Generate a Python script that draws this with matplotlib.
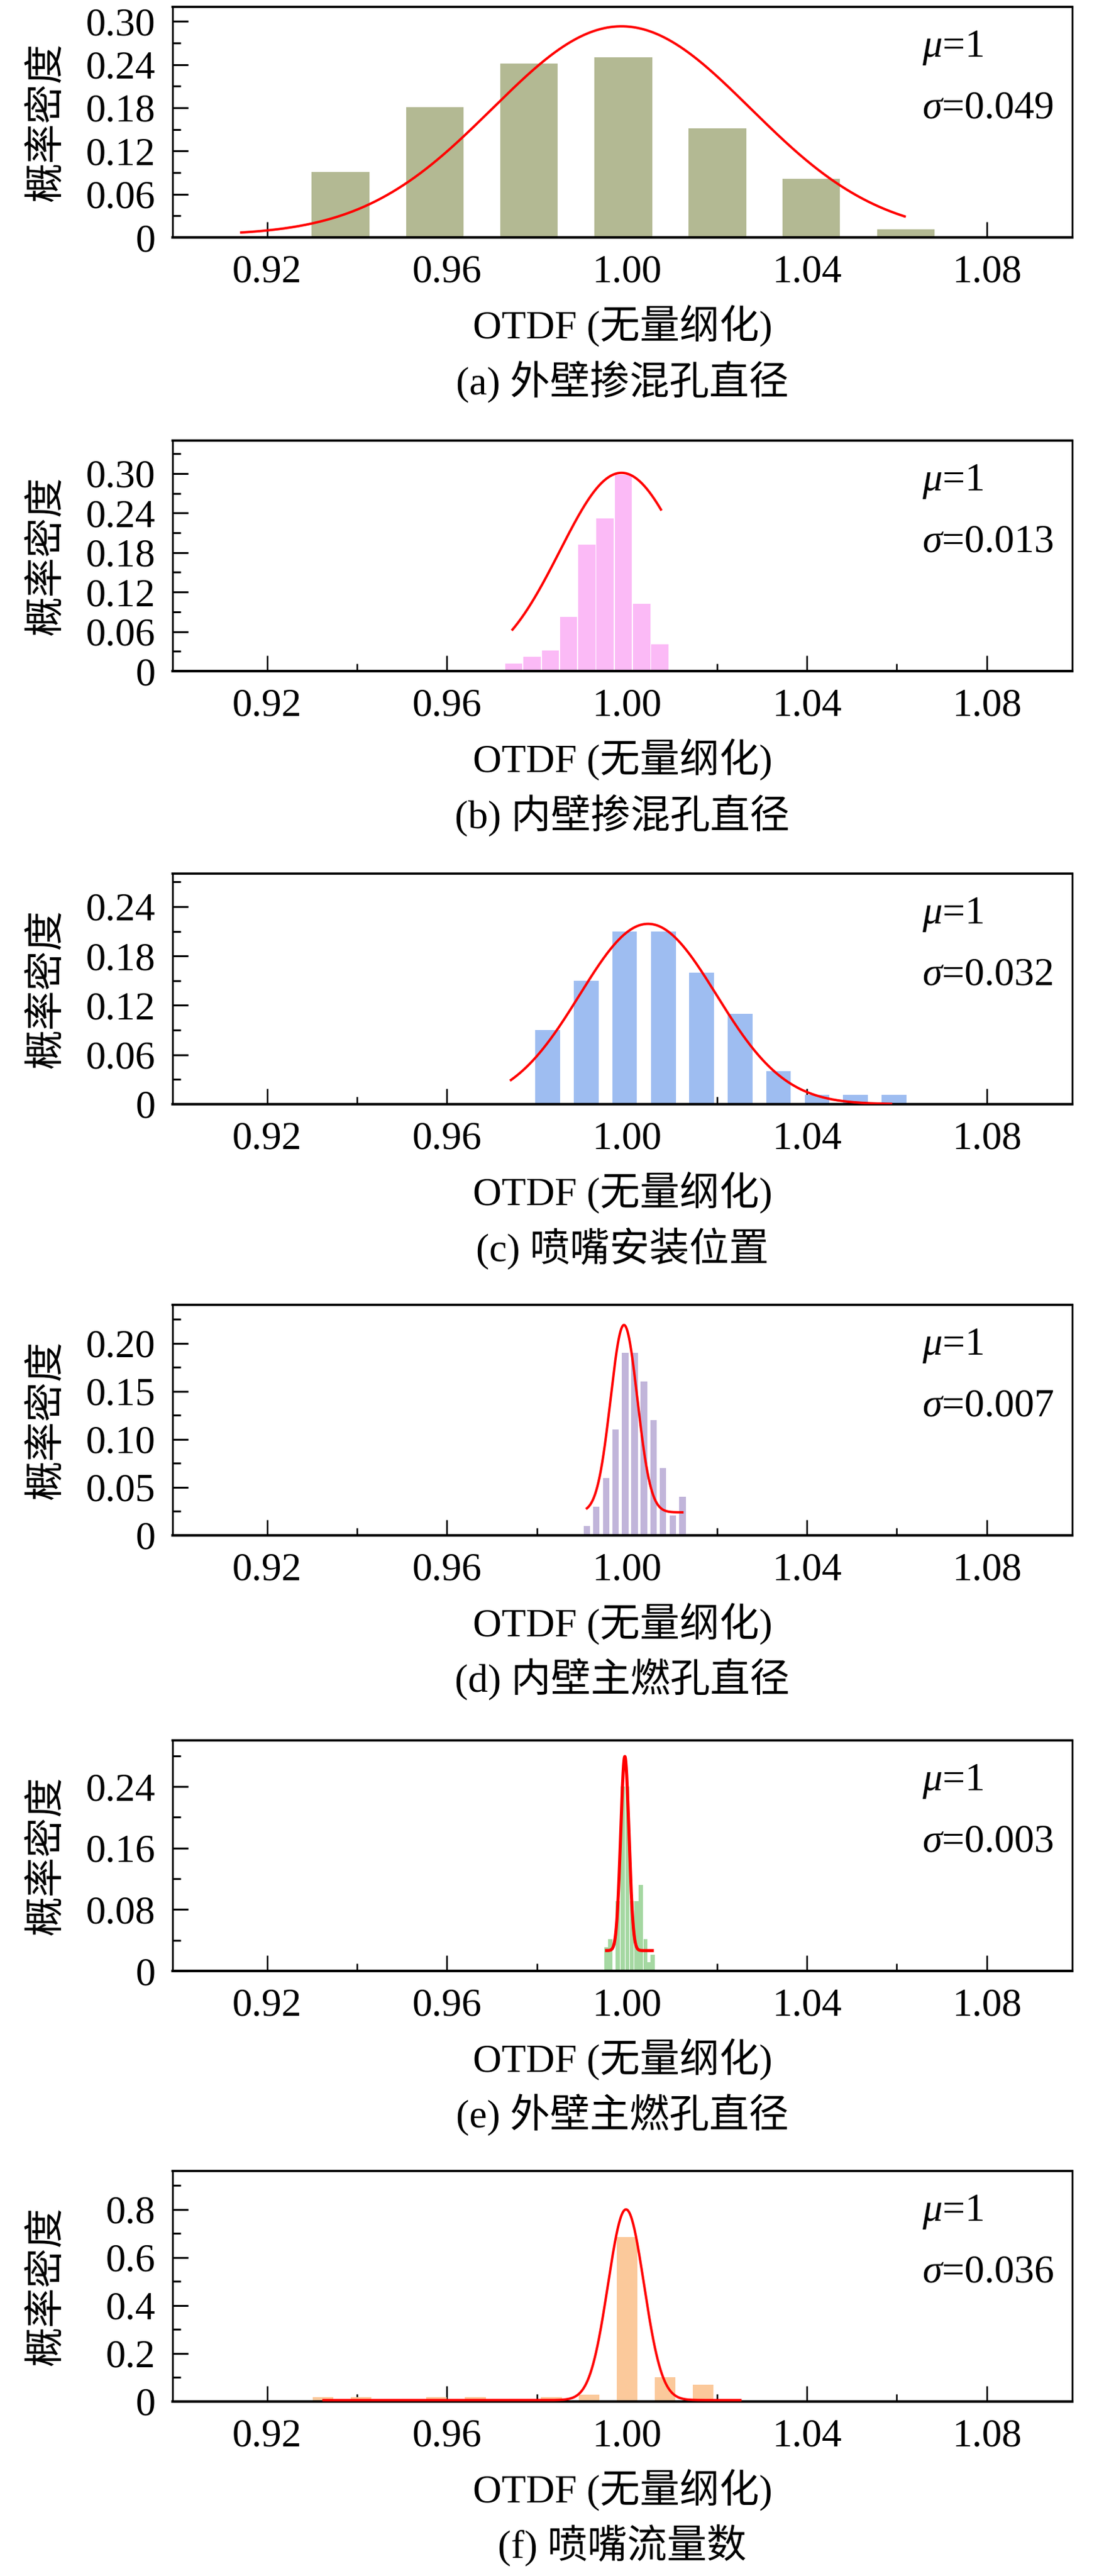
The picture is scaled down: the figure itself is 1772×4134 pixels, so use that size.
import numpy as np
import matplotlib
matplotlib.use("Agg")
import matplotlib.pyplot as plt
from matplotlib.ticker import FixedLocator, MultipleLocator

plt.rcParams['font.family'] = ['Liberation Serif', 'Noto Sans CJK SC', 'DejaVu Sans']
plt.rcParams['mathtext.fontset'] = 'custom'
plt.rcParams['mathtext.it'] = 'Liberation Serif:italic'
plt.rcParams['mathtext.rm'] = 'Liberation Serif'

# ---------------- data ----------------
captions = ["(a) 外壁掺混孔直径", "(b) 内壁掺混孔直径", "(c) 喷嘴安装位置",
            "(d) 内壁主燃孔直径", "(e) 外壁主燃孔直径", "(f) 喷嘴流量数"]
sigma_labels = ["0.049", "0.013", "0.032", "0.007", "0.003", "0.036"]
mu_label = "1"

bar_x_a = [0.9363, 0.9573, 0.9782, 0.9992, 1.0201, 1.0410, 1.0620]
bar_h_a = [0.091, 0.181, 0.241, 0.250, 0.151, 0.081, 0.011]

bar_x_b = [0.9748, 0.9789, 0.9830, 0.9870, 0.9911, 0.9951, 0.9992, 1.0033, 1.0073]
bar_h_b = [0.011, 0.022, 0.031, 0.082, 0.192, 0.232, 0.298, 0.102, 0.041]

bar_x_c = [0.9824, 0.9910, 0.9995, 1.0081, 1.0166, 1.0252, 1.0337, 1.0423, 1.0508, 1.0594]
bar_h_c = [0.090, 0.150, 0.210, 0.210, 0.160, 0.110, 0.040, 0.011, 0.011, 0.011]

bar_x_d = [0.9911, 0.9932, 0.9954, 0.9975, 0.9996, 1.0017, 1.0038, 1.0059, 1.0080, 1.0102, 1.0124]
bar_h_d = [0.010, 0.030, 0.060, 0.110, 0.190, 0.190, 0.160, 0.120, 0.070, 0.021, 0.040]

bar_x_e = [0.9954, 0.9963, 0.9980, 0.9991, 1.0001, 1.0011, 1.0021, 1.0031, 1.0041, 1.0049, 1.0057]
bar_h_e = [0.031, 0.041, 0.091, 0.240, 0.240, 0.091, 0.091, 0.112, 0.041, 0.011, 0.021]

bar_x_f = [0.9325, 0.9409, 0.9494, 0.9577, 0.9663, 0.9747, 0.9832, 0.9916, 1.0000, 1.0085, 1.0169]
bar_h_f = [0.018, 0.018, 0.0, 0.019, 0.018, 0.0, 0.019, 0.028, 0.685, 0.100, 0.070]

# fitted normal curves: centre, width, peak, base level, x range
curve_center = [0.9988, 0.9988, 1.0047, 0.99935, 0.99954, 0.9998]
curve_sigma = [0.0287, 0.0137, 0.0152, 0.00297, 0.00092, 0.0040]
curve_peak = [0.293, 0.301, 0.219, 0.219, 0.279, 0.800]
curve_base = [0.003, 0.0, 0.0, 0.024, 0.0265, 0.006]
curve_xmin = [0.914, 0.9744, 0.974, 0.9909, 0.99516, 0.9323]
curve_xmax = [1.062, 1.0077, 1.059, 1.0126, 1.00599, 1.0255]

ylims = [0.32, 0.35, 0.28, 0.24, 0.30, 0.96]
yticks = [[0, 0.06, 0.12, 0.18, 0.24, 0.30],
          [0, 0.06, 0.12, 0.18, 0.24, 0.30],
          [0, 0.06, 0.12, 0.18, 0.24],
          [0, 0.05, 0.10, 0.15, 0.20],
          [0, 0.08, 0.16, 0.24],
          [0, 0.2, 0.4, 0.6, 0.8]]
ytick_labels = [["0", "0.06", "0.12", "0.18", "0.24", "0.30"],
                ["0", "0.06", "0.12", "0.18", "0.24", "0.30"],
                ["0", "0.06", "0.12", "0.18", "0.24"],
                ["0", "0.05", "0.10", "0.15", "0.20"],
                ["0", "0.08", "0.16", "0.24"],
                ["0", "0.2", "0.4", "0.6", "0.8"]]
yminor = [0.03, 0.03, 0.03, 0.025, 0.04, 0.1]
xticks = [0.92, 0.96, 1.00, 1.04, 1.08]
xtick_labels = ["0.92", "0.96", "1.00", "1.04", "1.08"]
xminor = [0.94, 0.98, 1.02, 1.06]
xlabel = "OTDF (无量纲化)"
ylabel = "概率密度"

bars_x = [bar_x_a, bar_x_b, bar_x_c, bar_x_d, bar_x_e, bar_x_f]
bars_h = [bar_h_a, bar_h_b, bar_h_c, bar_h_d, bar_h_e, bar_h_f]

# ---------------- style ----------------
colors = ['#b3b993', '#fbbaf6', '#9ebdf1', '#c1b5da', '#a5d8a2', '#fbc99b']
bar_widths = [0.0128, 0.0038, 0.0055, 0.00147, 0.00092, 0.0046]
curve_lw = [2.8, 2.8, 2.8, 2.8, 3.6, 2.8]

W, H = 1772, 4134
DPI = 100
fig = plt.figure(figsize=(W / DPI, H / DPI), dpi=DPI)
FS = 46

tops = [11, 707, 1402, 2094, 2793, 3484]
ax_h = 370
left, right = 277, 1721
px2pt = 72.0 / DPI

for i in range(6):
    top = tops[i]
    ax = fig.add_axes([left / W, 1 - (top + ax_h) / H, (right - left) / W, ax_h / H])
    ax.bar(bars_x[i], bars_h[i], width=bar_widths[i], color=colors[i], linewidth=0, zorder=2)
    xs = np.linspace(curve_xmin[i], curve_xmax[i], 600)
    ys = curve_base[i] + (curve_peak[i] - curve_base[i]) * np.exp(-(xs - curve_center[i]) ** 2 / (2 * curve_sigma[i] ** 2))
    ax.plot(xs, ys, color='#ff0000', lw=curve_lw[i], zorder=3, solid_capstyle='butt')

    ax.set_xlim(0.899, 1.099)
    ax.set_ylim(0, ylims[i])
    ax.xaxis.set_major_locator(FixedLocator(xticks))
    ax.set_xticklabels(xtick_labels)
    ax.xaxis.set_minor_locator(FixedLocator(xminor))
    ax.yaxis.set_major_locator(FixedLocator(yticks[i]))
    ax.set_yticklabels(ytick_labels[i])
    ax.yaxis.set_minor_locator(MultipleLocator(yminor[i]))

    ax.tick_params(axis='both', which='major', direction='in', length=18, width=2.2,
                   labelsize=FS, top=False, right=False)
    ax.tick_params(axis='both', which='minor', direction='in', length=9, width=2.2,
                   top=False, right=False)
    ax.tick_params(axis='x', which='major', pad=20, width=1.8)
    ax.tick_params(axis='x', which='minor', width=1.8)
    ax.tick_params(axis='y', which='major', pad=20)
    for s in ['left', 'right']:
        ax.spines[s].set_linewidth(2.0)
    ax.spines['top'].set_linewidth(2.6)
    ax.spines['bottom'].set_linewidth(3.0)

    ax.annotate(xlabel, xy=(0.5, 0), xycoords='axes fraction',
                xytext=(0, -143 * px2pt), textcoords='offset points',
                ha='center', va='center', fontsize=FS)
    ax.annotate(captions[i], xy=(0.5, 0), xycoords='axes fraction',
                xytext=(0, -232 * px2pt), textcoords='offset points',
                ha='center', va='center', fontsize=FS)
    ax.annotate(ylabel, xy=(0, 0.5), xycoords='axes fraction',
                xytext=(-201 * px2pt, 0), textcoords='offset points',
                ha='center', va='center', rotation=90, fontsize=FS)
    ax.text(0.833, 0.785, r'$\mu$=' + mu_label, transform=ax.transAxes,
            ha='left', va='baseline', fontsize=FS)
    ax.text(0.833, 0.518, r'$\sigma$=' + sigma_labels[i], transform=ax.transAxes,
            ha='left', va='baseline', fontsize=FS)

fig.savefig("out.png", dpi=DPI)
